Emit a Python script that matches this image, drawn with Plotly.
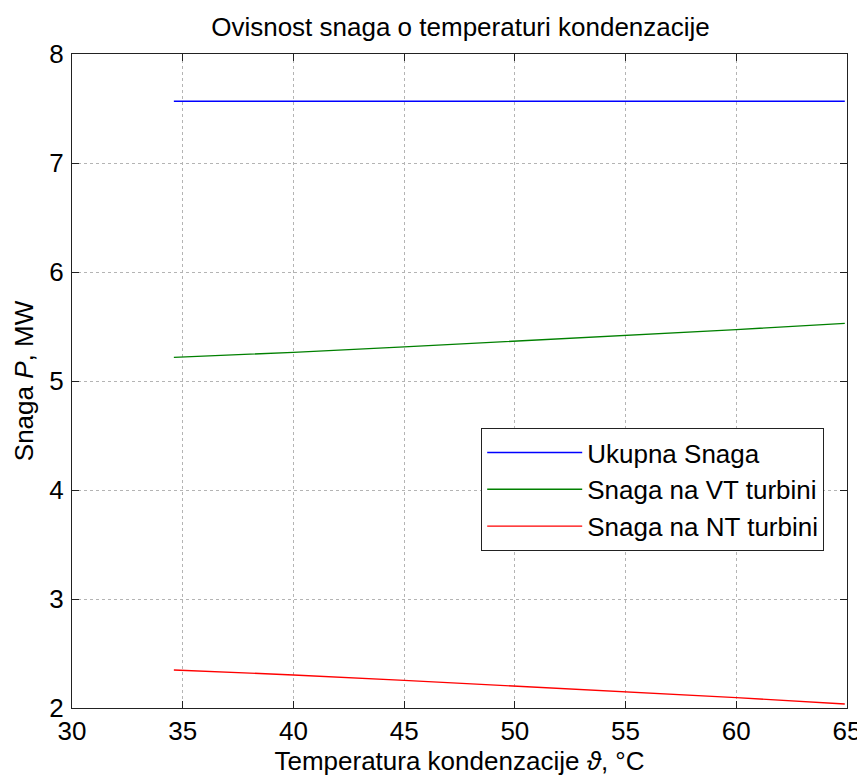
import plotly.graph_objects as go

# Data
temp = [34.6, 40, 45, 50, 55, 60, 64.9]
p_total = [7.566, 7.566, 7.566, 7.566, 7.566, 7.566, 7.566]
p_vt = [5.217, 5.263, 5.313, 5.366, 5.416, 5.471, 5.529]
p_nt = [2.349, 2.303, 2.253, 2.200, 2.150, 2.095, 2.037]

series_names = ["Ukupna Snaga", "Snaga na VT turbini", "Snaga na NT turbini"]
series_colors = ["#0000ff", "#008000", "#ff0000"]
x_ticks = [30, 35, 40, 45, 50, 55, 60, 65]
y_ticks = [2, 3, 4, 5, 6, 7, 8]

FONT = "Liberation Sans, Arial, sans-serif"
FS = 26

# page body has an 8px margin, so the figure is sized to fit the window
W, H = 857, 772

fig = go.Figure()
for name, vals, col in zip(series_names, [p_total, p_vt, p_nt], series_colors):
    fig.add_trace(go.Scatter(x=temp, y=vals, mode="lines", name=name,
                             line=dict(color=col, width=1.4)))

axis_common = dict(
    showline=True, linecolor="#222222", linewidth=1.2, mirror="ticks",
    ticks="inside", ticklen=7, tickcolor="#222222",
    showgrid=True, gridcolor="#b4b4b4", gridwidth=1, griddash="dot",
    zeroline=False, automargin=False,
    tickfont=dict(size=FS, color="black", family=FONT),
)

fig.update_layout(
    width=W, height=H,
    paper_bgcolor="white", plot_bgcolor="white",
    margin=dict(l=64, r=18, t=46, b=72),
    font=dict(family=FONT, color="black"),
    title=dict(text="Ovisnost snaga o temperaturi kondenzacije",
               x=452.5 / W, xanchor="center", y=1 - 19 / H, yanchor="middle",
               font=dict(size=FS, color="black", family=FONT)),
    xaxis=dict(range=[30, 65], tickvals=x_ticks,
               title=dict(text="Temperatura kondenzacije <i>ϑ</i>, °C",
                          font=dict(size=FS, color="black", family=FONT), standoff=4),
               **axis_common),
    yaxis=dict(range=[2, 8], tickvals=y_ticks,
               title=dict(text="Snaga <i>P</i>, MW",
                          font=dict(size=FS, color="black", family=FONT), standoff=8),
               ticklabelstandoff=2,
               **axis_common),
    legend=dict(x=0.528, y=0.428, xanchor="left", yanchor="top",
                bgcolor="white", bordercolor="#222222", borderwidth=1,
                font=dict(size=FS, color="black", family=FONT),
                tracegroupgap=0, itemwidth=95),
    showlegend=True,
)

fig.write_html("out.html")
